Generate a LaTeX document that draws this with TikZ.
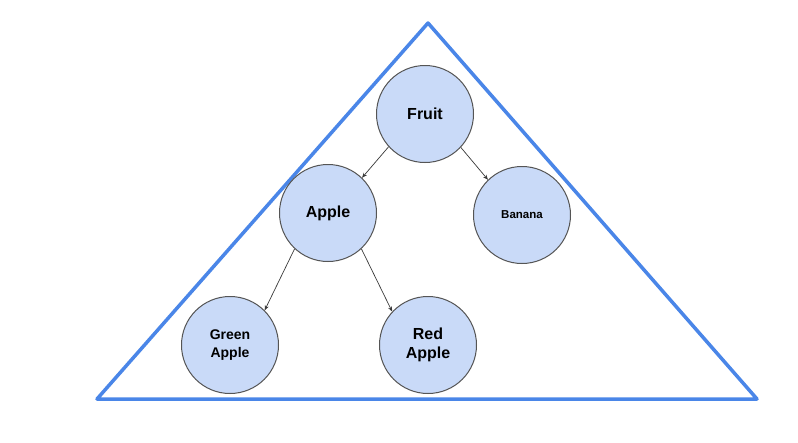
\documentclass[tikz,border=0pt]{standalone}
\usepackage{fontspec}
\setmainfont{Liberation Sans}
\usetikzlibrary{arrows.meta}
\definecolor{tri}{HTML}{4A86E8}
\definecolor{cfill}{HTML}{C9DAF8}
\definecolor{cedge}{HTML}{555555}
\definecolor{arr}{HTML}{3A3A3A}
\tikzset{
  fruitnode/.style={circle, draw=cedge, line width=1pt, fill=cfill, minimum size=97pt, inner sep=0pt, align=center, font=\bfseries},
  link/.style={draw=arr, line width=0.7pt, -{Stealth[length=5pt,width=4pt]}},
  trianglestyle/.style={draw=tri, line width=3.5pt, line join=round}
}
\begin{document}
\begin{tikzpicture}[x=1pt,y=-1pt]
\useasboundingbox (0,0) rectangle (798,442);
\fill[white] (0,0) rectangle (798,442);
\coordinate (apex) at (428,23);
\coordinate (bl) at (97,399);
\coordinate (br) at (757,399);
\draw[trianglestyle] (apex) -- (bl) -- (br) -- cycle;
\node[fruitnode, font=\bfseries\fontsize{16}{18}\selectfont] (fruit) at (425,114) {Fruit};
\node[fruitnode, font=\bfseries\fontsize{16}{18}\selectfont] (apple) at (328,213) {Apple};
\node[fruitnode, font=\bfseries\fontsize{11.5}{13}\selectfont] (banana) at (522,215) {Banana};
\node[fruitnode, font=\bfseries\fontsize{14}{18}\selectfont] (green) at (230,345) {Green\\Apple};
\node[fruitnode, font=\bfseries\fontsize{16}{18.5}\selectfont] (red) at (428,345) {Red\\Apple};
\draw[link] (fruit.222) -- (apple.46);
\draw[link] (fruit.317) -- (banana.134);
\draw[link] (apple.227) -- (green.45);
\draw[link] (apple.313) -- (red.137);
\end{tikzpicture}
\end{document}
